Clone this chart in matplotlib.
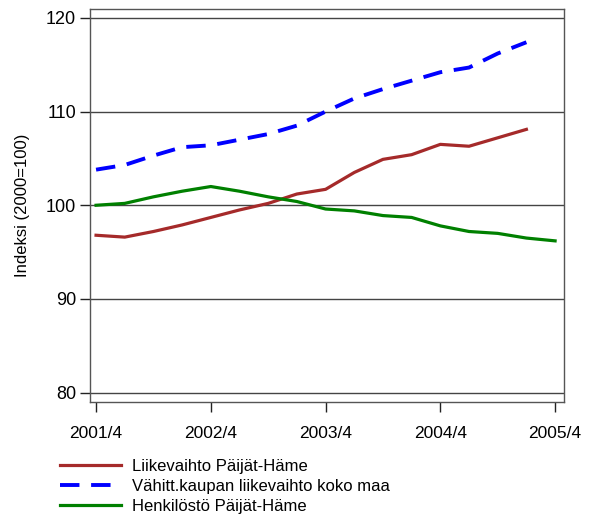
import matplotlib
matplotlib.use('Agg')
from matplotlib import pyplot as plt

plt.rcParams['font.family'] = ['Liberation Sans', 'DejaVu Sans']

# neljännekset 2001/4 ... 2005/4
quarters = list(range(17))
tick_pos = [0, 4, 8, 12, 16]
tick_labels = ['2001/4', '2002/4', '2003/4', '2004/4', '2005/4']

liikevaihto_ph = [96.8, 96.6, 97.2, 97.9, 98.7, 99.5, 100.2, 101.2, 101.7,
                  103.5, 104.9, 105.4, 106.5, 106.3, 107.2, 108.1]
vahitt_koko_maa = [103.8, 104.3, 105.3, 106.2, 106.4, 107.0, 107.6, 108.5, 110.0,
                   111.4, 112.4, 113.3, 114.2, 114.7, 116.2, 117.4]
henkilosto_ph = [100.0, 100.2, 100.9, 101.5, 102.0, 101.5, 100.9, 100.4, 99.6,
                 99.4, 98.9, 98.7, 97.8, 97.2, 97.0, 96.5, 96.2]

fig = plt.figure(figsize=(5.97, 5.16), dpi=100)
ax = fig.add_axes([0.1508, 0.2209, 0.7939, 0.7626])

for y in [80, 90, 100, 110, 120]:
    ax.axhline(y, color='#444444', lw=1.0, zorder=1)

ax.plot(quarters[:len(liikevaihto_ph)], liikevaihto_ph, color='#A52A2A', lw=2.3,
        label='Liikevaihto Päijät-Häme', zorder=3)
ax.plot(quarters[:len(vahitt_koko_maa)], vahitt_koko_maa, color='#0000FF', lw=2.8,
        dashes=(5, 3), label='Vähitt.kaupan liikevaihto koko maa', zorder=3)
ax.plot(quarters[:len(henkilosto_ph)], henkilosto_ph, color='#008000', lw=2.3,
        label='Henkilöstö Päijät-Häme', zorder=3)

ax.set_xlim(-0.21, 16.31)
ax.set_ylim(79.0, 121.0)
ax.set_yticks([80, 90, 100, 110, 120])
ax.set_xticks(tick_pos)
ax.set_xticklabels(tick_labels)
ax.tick_params(axis='both', labelsize=12.5, length=7, width=1, color='#222222')
ax.tick_params(axis='y', labelsize=13, pad=3)
ax.tick_params(axis='x', pad=10.5)
for s in ax.spines.values():
    s.set_color('#555555')
    s.set_linewidth(1.0)
ax.set_ylabel('Indeksi (2000=100)', fontsize=12, labelpad=11.5)

fig.legend(loc='upper left', bbox_to_anchor=(0.1, 0.1114), frameon=False,
           fontsize=12, handlelength=3.7, handletextpad=0.66, labelspacing=0.3,
           borderaxespad=0, borderpad=0)

plt.savefig('out.png', dpi=100)
